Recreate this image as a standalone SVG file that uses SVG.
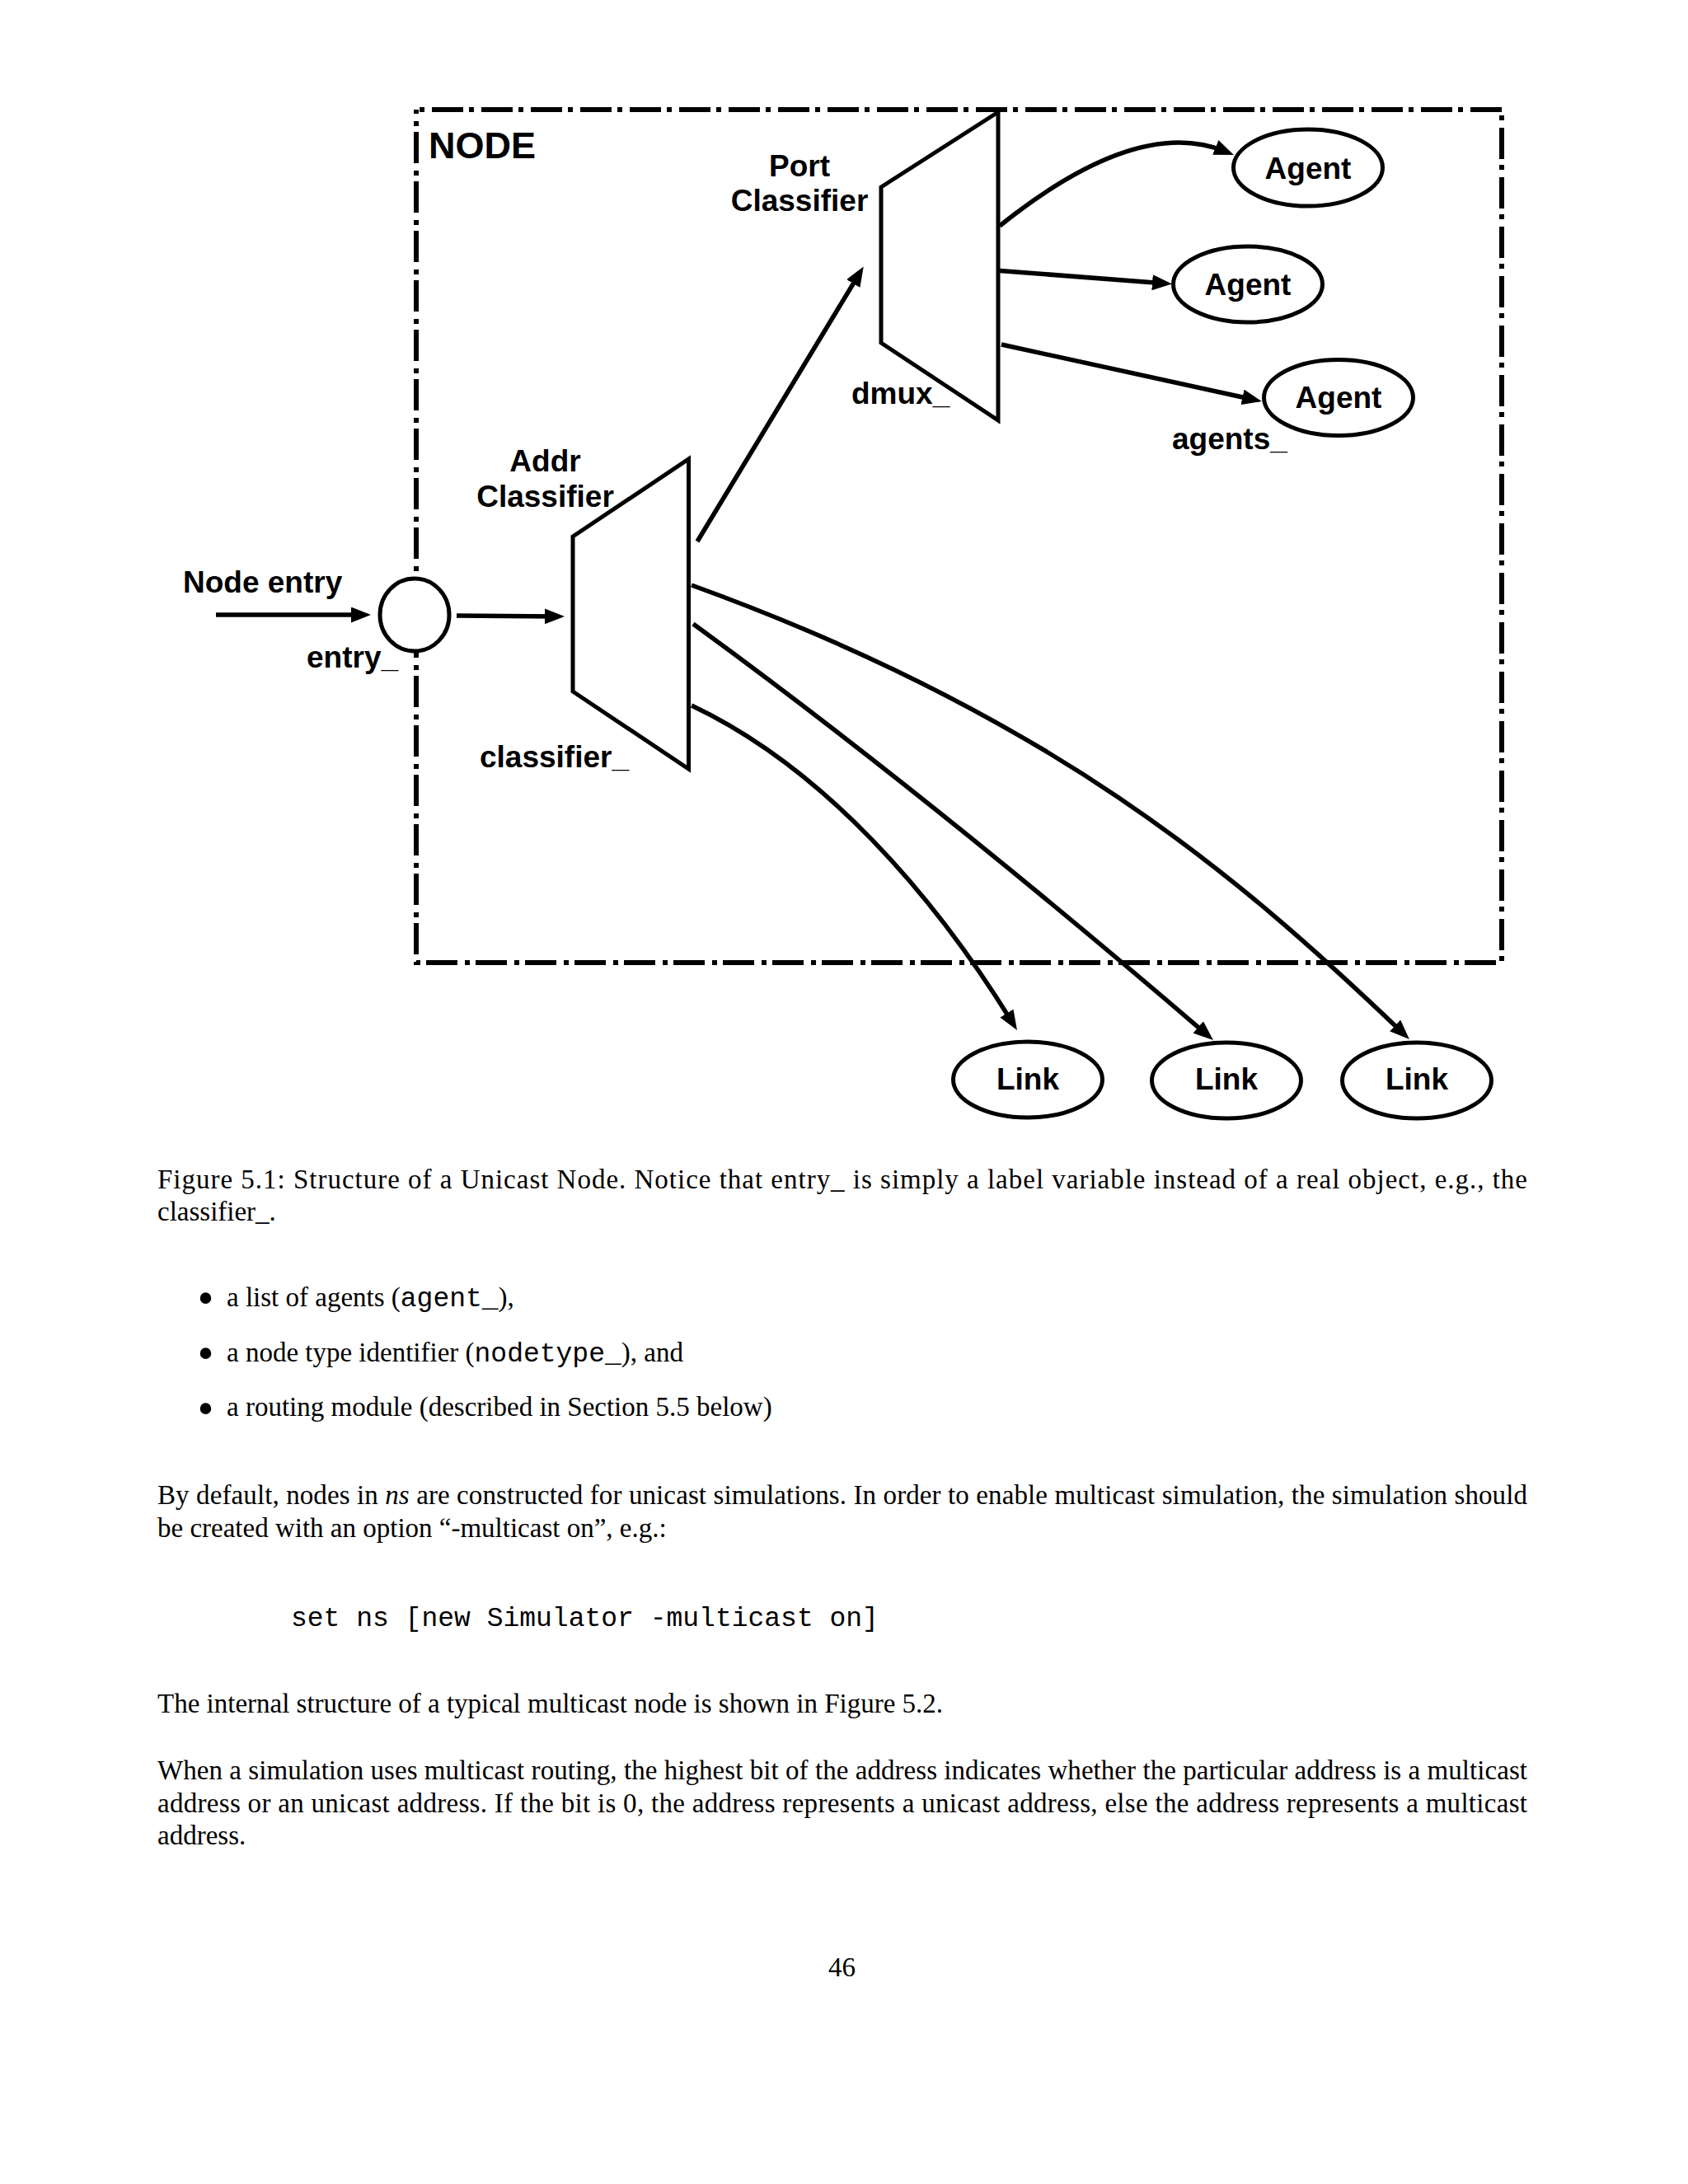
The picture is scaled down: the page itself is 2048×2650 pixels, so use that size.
<svg xmlns="http://www.w3.org/2000/svg" width="2048" height="2650" viewBox="0 0 2048 2650">
<defs>
<style>
.lbl{font-family:"Liberation Sans",Arial,sans-serif;font-weight:bold;font-size:37px;fill:#000}
.body{font-family:"Liberation Serif","Times New Roman",serif;font-size:33px;fill:#000}
.bul{font-family:"Liberation Serif","Times New Roman",serif;font-size:57px;fill:#000}
.mono{font-family:"Liberation Mono","Courier New",monospace;font-size:33px;fill:#000}
.shape{fill:#fff;stroke:#000;stroke-width:5;stroke-linejoin:miter}
.conn{fill:none;stroke:#000;stroke-width:5.5;marker-end:url(#arr)}
.frame{fill:none;stroke:#000;stroke-width:6;stroke-dasharray:38 7 6 9;stroke-dashoffset:41}
</style>
<marker id="arr" markerUnits="userSpaceOnUse" markerWidth="24" markerHeight="19" refX="13" refY="9.5" orient="auto">
<path d="M0,0 L24,9.5 L0,19 z" fill="#000"/>
</marker>
</defs>
<rect width="2048" height="2650" fill="#fff"/>

<g id="node-frame">
<rect class="frame" x="505" y="133" width="1317" height="1035"/>
<text class="lbl" x="520" y="192" style="font-size:45px">NODE</text>
</g>

<g id="connectors">
<path class="conn" d="M262,746 L439,746"/>
<path class="conn" d="M554,747 L674,748"/>
<path class="conn" d="M846,657 L1042,333"/>
<path class="conn" d="M1213,274 Q1380,140 1486.8,183.8"/>
<path class="conn" d="M1213,328.5 L1411,343.7"/>
<path class="conn" d="M1215,418 L1520.2,484.7"/>
<path class="conn" d="M839,710 C1273,867 1499,1059 1702,1253.4"/>
<path class="conn" d="M841,757 Q1120,960 1463.6,1254.8"/>
<path class="conn" d="M839,856 C1000,932 1134,1088 1228.2,1240.6"/>
</g>

<g id="entry">
<ellipse class="shape" cx="503" cy="746" rx="42" ry="44"/>
<text class="lbl" x="222" y="719">Node entry</text>
<text class="lbl" x="372" y="810">entry_</text>
</g>

<g id="addr-classifier">
<polygon class="shape" points="695,651 835.5,557 835.5,933 695,839"/>
<text class="lbl" x="661.5" y="572" text-anchor="middle">Addr</text>
<text class="lbl" x="661.5" y="615" text-anchor="middle">Classifier</text>
<text class="lbl" x="582" y="931">classifier_</text>
</g>

<g id="port-classifier">
<polygon class="shape" points="1069,227 1211,136 1211,510 1069,416"/>
<text class="lbl" x="970" y="214" text-anchor="middle">Port</text>
<text class="lbl" x="970" y="256" text-anchor="middle">Classifier</text>
<text class="lbl" x="1033" y="490">dmux_</text>
</g>

<g id="agent1">
<ellipse class="shape" cx="1587" cy="203.5" rx="90.5" ry="46.5"/>
<text class="lbl" x="1587" y="217" text-anchor="middle">Agent</text>
</g>
<g id="agent2">
<ellipse class="shape" cx="1514" cy="345" rx="90.5" ry="46"/>
<text class="lbl" x="1514" y="358" text-anchor="middle">Agent</text>
</g>
<g id="agent3">
<ellipse class="shape" cx="1624" cy="482.5" rx="90.5" ry="46"/>
<text class="lbl" x="1624" y="495" text-anchor="middle">Agent</text>
<text class="lbl" x="1422" y="545">agents_</text>
</g>

<g id="link1">
<ellipse class="shape" cx="1247" cy="1310" rx="90.5" ry="46"/>
<text class="lbl" x="1247" y="1322" text-anchor="middle">Link</text>
</g>
<g id="link2">
<ellipse class="shape" cx="1488" cy="1311" rx="90.5" ry="46"/>
<text class="lbl" x="1488" y="1322" text-anchor="middle">Link</text>
</g>
<g id="link3">
<ellipse class="shape" cx="1719" cy="1311" rx="90.5" ry="46"/>
<text class="lbl" x="1719" y="1322" text-anchor="middle">Link</text>
</g>

<g id="page-text">
<text class="body" x="191" y="1442" textLength="1662" lengthAdjust="spacing">Figure 5.1: Structure of a Unicast Node. Notice that entry_ is simply a label variable instead of a real object, e.g., the</text>
<text class="body" x="191" y="1481">classifier_.</text>
<text class="bul" x="239.5" y="1594">•</text>
<text class="body" x="275" y="1585">a list of agents (<tspan class="mono">agent_</tspan>),</text>
<text class="bul" x="239.5" y="1661">•</text>
<text class="body" x="275" y="1651.5">a node type identifier (<tspan class="mono">nodetype_</tspan>), and</text>
<text class="bul" x="239.5" y="1727.5">•</text>
<text class="body" x="275" y="1718">a routing module (described in Section 5.5 below)</text>
<text class="body" x="191" y="1825" textLength="1662" lengthAdjust="spacing">By default, nodes in <tspan font-style="italic">ns</tspan> are constructed for unicast simulations. In order to enable multicast simulation, the simulation should</text>
<text class="body" x="191" y="1865">be created with an option “-multicast on”, e.g.:</text>
<text class="mono" x="353" y="1972.5">set ns [new Simulator -multicast on]</text>
<text class="body" x="191" y="2078">The internal structure of a typical multicast node is shown in Figure 5.2.</text>
<text class="body" x="191" y="2159" textLength="1662" lengthAdjust="spacing">When a simulation uses multicast routing, the highest bit of the address indicates whether the particular address is a multicast</text>
<text class="body" x="191" y="2198.5" textLength="1662" lengthAdjust="spacing">address or an unicast address. If the bit is 0, the address represents a unicast address, else the address represents a multicast</text>
<text class="body" x="191" y="2238">address.</text>
<text class="body" x="1021.5" y="2398" text-anchor="middle">46</text>
</g>
</svg>
